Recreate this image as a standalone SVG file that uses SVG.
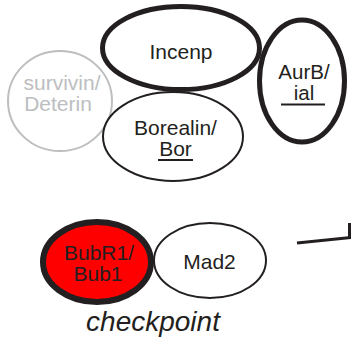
<svg xmlns="http://www.w3.org/2000/svg" width="351" height="342" viewBox="0 0 351 342">
<style>
.t{font-family:"Liberation Sans",Arial,sans-serif;font-size:21px;fill:#231f20;text-anchor:middle}
.g{fill:#bcbec0}
.thick{fill:#fff;stroke:#231f20;stroke-width:5}
.thin{fill:#fff;stroke:#231f20;stroke-width:2}
.ul{stroke:#231f20;stroke-width:2}
</style>
<rect width="351" height="342" fill="#fff"/>
<g id="survivin">
<ellipse cx="60" cy="101" rx="52" ry="50" fill="#fff" stroke="#bcbec0" stroke-width="2"/>
<text class="t g" x="62" y="90">survivin/</text>
<text class="t g" x="58" y="111">Deterin</text>
</g>
<g id="incenp">
<ellipse class="thick" cx="181" cy="48" rx="78.5" ry="41.5"/>
<text class="t" x="181" y="59">Incenp</text>
</g>
<g id="borealin">
<ellipse class="thin" cx="173" cy="136.5" rx="70" ry="44.5"/>
<text class="t" x="175.5" y="135">Borealin/</text>
<text class="t" x="175.5" y="156">Bor</text>
<line class="ul" x1="158" y1="160" x2="193" y2="160"/>
</g>
<g id="aurb">
<ellipse class="thick" cx="302" cy="81" rx="42.5" ry="61"/>
<text class="t" x="304" y="79" style="font-size:20.5px">AurB/</text>
<text class="t" x="304" y="100" style="font-size:20.5px">ial</text>
<line class="ul" x1="281" y1="104.5" x2="325" y2="104.5"/>
</g>
<g id="bubr1">
<ellipse cx="97" cy="262" rx="54" ry="40" fill="#ff0000" stroke="#231f20" stroke-width="6"/>
<text class="t" x="99" y="260">BubR1/</text>
<text class="t" x="98" y="281">Bub1</text>
</g>
<g id="mad2">
<ellipse class="thin" cx="210" cy="260.5" rx="56" ry="37.5"/>
<text class="t" x="209.5" y="269">Mad2</text>
</g>
<g id="label">
<text x="153" y="331" style="font-family:'Liberation Sans',Arial,sans-serif;font-size:28px;font-style:italic;fill:#231f20;text-anchor:middle">checkpoint</text>
</g>
<g id="connectors" stroke="#231f20" stroke-width="3" fill="none">
<line x1="297" y1="243" x2="351" y2="237.5"/>
<line x1="349.5" y1="223" x2="349.5" y2="239"/>
</g>
</svg>
